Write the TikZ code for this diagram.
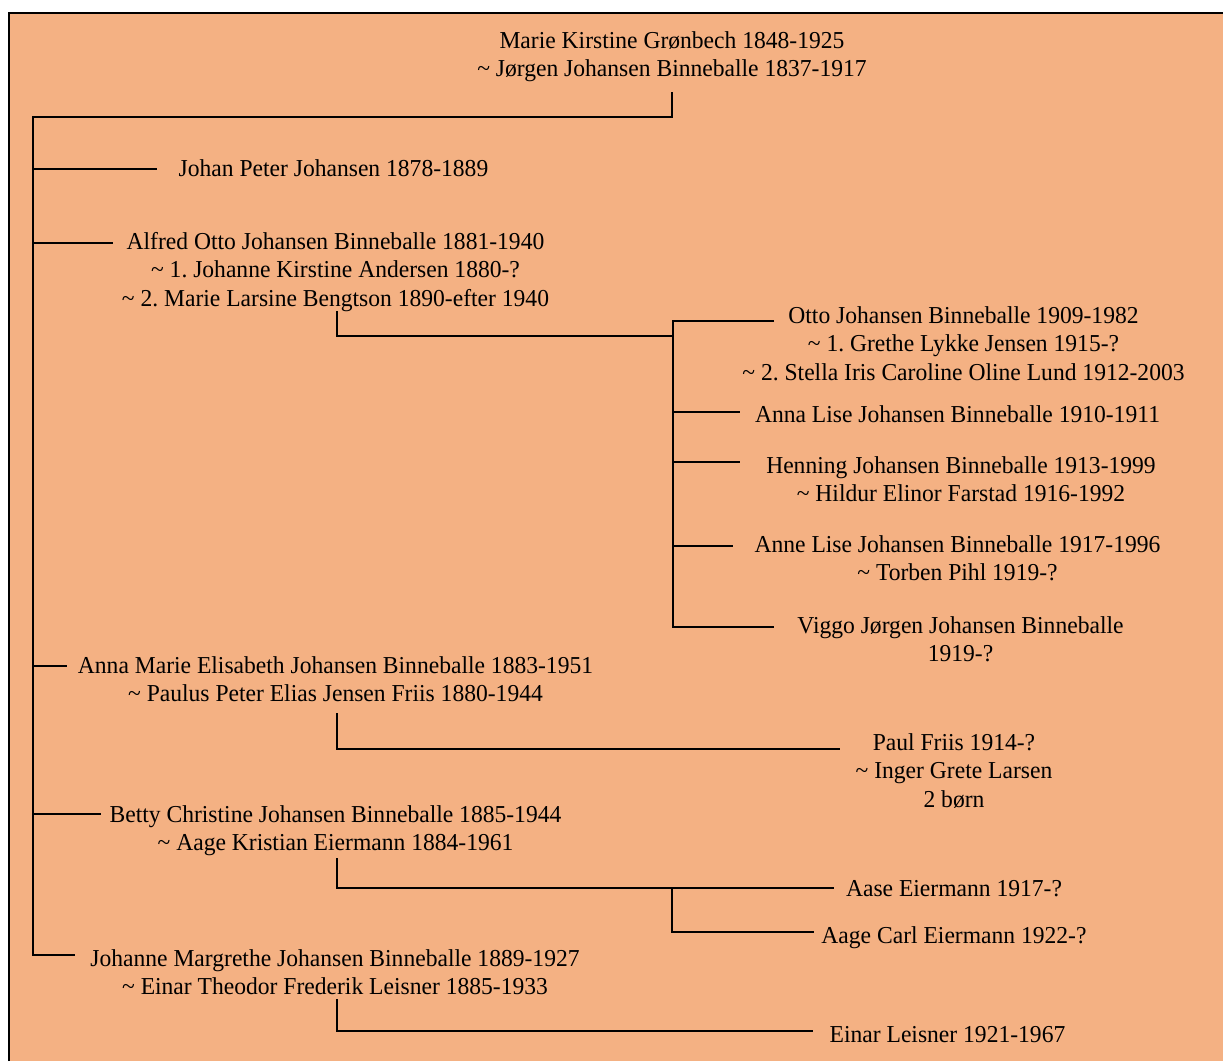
\documentclass[tikz,border=0pt]{standalone}
\usepackage{fontspec}
\setmainfont{Liberation Serif}[FakeStretch=0.97]
\definecolor{bgorange}{RGB}{244,177,131}
\newcommand\sptilde{\textasciitilde\ }
\begin{document}
\frenchspacing
\begin{tikzpicture}[x=1pt,y=-1pt,
  person/.style={text width=560pt, align=flush center, inner sep=0pt, anchor=base,
    font=\fontsize{24.3}{28.7}\selectfont\frenchspacing},
  link/.style={line width=1.3pt, line join=miter}]
\useasboundingbox (0,0) rectangle (1223,1061);
\fill[white] (0,0) rectangle (1223,1061);
\fill[bgorange] (9,13) rectangle (1223,1061);
\draw[line width=1.6pt] (9,1061) -- (9,13) -- (1223,13);

% text nodes
\node[person] (root) at (672,48) {Marie Kirstine Grønbech 1848-1925\\\sptilde Jørgen Johansen Binneballe 1837-1917};
\node[person] (johan) at (333.5,176) {Johan Peter Johansen 1878-1889};
\node[person] (alfred) at (335.5,249) {Alfred Otto Johansen Binneballe 1881-1940\\\sptilde 1. Johanne Kirstine Andersen 1880-?\\\sptilde 2. Marie Larsine Bengtson 1890-efter 1940};
\node[person] (otto) at (963.5,323) {Otto Johansen Binneballe 1909-1982\\\sptilde 1. Grethe Lykke Jensen 1915-?\\\sptilde 2. Stella Iris Caroline Oline Lund 1912-2003};
\node[person] (annalise) at (957.5,422) {Anna Lise Johansen Binneballe 1910-1911};
\node[person] (henning) at (961,473) {Henning Johansen Binneballe 1913-1999\\\sptilde Hildur Elinor Farstad 1916-1992};
\node[person] (anneliseb) at (957.5,552) {Anne Lise Johansen Binneballe 1917-1996\\\sptilde Torben Pihl 1919-?};
\node[person] (viggo) at (960.5,633) {Viggo Jørgen Johansen Binneballe\\1919-?};
\node[person] (annamarie) at (335.5,673) {Anna Marie Elisabeth Johansen Binneballe 1883-1951\\\sptilde Paulus Peter Elias Jensen Friis 1880-1944};
\node[person] (paul) at (954,750) {Paul Friis 1914-?\\\sptilde Inger Grete Larsen\\2 børn};
\node[person] (betty) at (335.5,822) {Betty Christine Johansen Binneballe 1885-1944\\\sptilde Aage Kristian Eiermann 1884-1961};
\node[person] (aase) at (954,896) {Aase Eiermann 1917-?};
\node[person] (aagecarl) at (954,943) {Aage Carl Eiermann 1922-?};
\node[person] (johanne) at (335,966) {Johanne Margrethe Johansen Binneballe 1889-1927\\\sptilde Einar Theodor Frederik Leisner 1885-1933};
\node[person] (einar) at (947.5,1042) {Einar Leisner 1921-1967};

% connector points
\coordinate (root-s) at (672,92);
\coordinate (trunk) at (33,117);
\coordinate (johan-l) at (157,169);
\coordinate (alfred-l) at (113,243);
\coordinate (annamarie-l) at (67,666);
\coordinate (betty-l) at (101,814);
\coordinate (johanne-l) at (75,955);

\coordinate (alfred-s) at (337,311);
\coordinate (sub1) at (673,336);
\coordinate (otto-l) at (774,321);
\coordinate (annalise-l) at (740,412);
\coordinate (henning-l) at (740,462);
\coordinate (anneliseb-l) at (733,546);
\coordinate (viggo-l) at (774,627);

\coordinate (annamarie-s) at (337,713);
\coordinate (paul-l) at (840,749);

\coordinate (betty-s) at (337,858);
\coordinate (sub2) at (672,888);
\coordinate (aase-l) at (834,888);
\coordinate (aagecarl-l) at (814,932);

\coordinate (johanne-s) at (337,999);
\coordinate (einar-l) at (813,1031);

% connectors
\draw[link] (root-s) |- (trunk) |- (johanne-l);
\foreach \c in {johan-l,alfred-l,annamarie-l,betty-l}
  \draw[link] (trunk |- \c) -- (\c);

\draw[link] (alfred-s) |- (sub1);
\draw[link] (otto-l) -- (otto-l -| sub1) -- (viggo-l -| sub1) -- (viggo-l);
\foreach \c in {annalise-l,henning-l,anneliseb-l}
  \draw[link] (sub1 |- \c) -- (\c);

\draw[link] (annamarie-s) |- (paul-l);

\draw[link] (betty-s) |- (aase-l);
\draw[link] (sub2) |- (aagecarl-l);

\draw[link] (johanne-s) |- (einar-l);
\end{tikzpicture}
\end{document}
